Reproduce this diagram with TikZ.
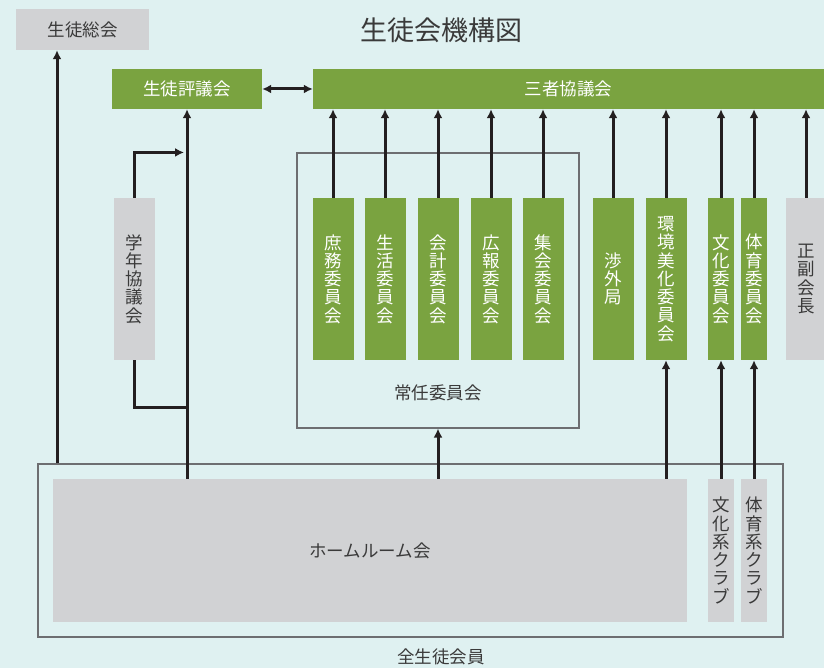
\documentclass[tikz,border=0pt]{standalone}
\usepackage{fontspec}
\newfontfamily\jp{Noto Sans CJK JP}
\usetikzlibrary{arrows.meta}
\definecolor{bgcyan}{HTML}{DFF1F1}
\definecolor{kgreen}{HTML}{7AA340}
\definecolor{kgray}{HTML}{D1D2D4}
\definecolor{kline}{HTML}{231F20}
\definecolor{kframe}{HTML}{6D6E71}
\definecolor{ktext}{HTML}{3A3A3A}

\begin{document}
\begin{tikzpicture}[x=1pt,y=-1pt,>={Latex[length=9pt,width=9pt]},
  base/.style={inner sep=0pt,font=\jp\fontsize{17.5}{18.3}\selectfont,align=center},
  greenbox/.style={base,fill=kgreen,text=white},
  graybox/.style={base,fill=kgray,text=ktext},
  tall/.style={minimum width=41pt,minimum height=162pt},
  slim/.style={minimum width=26pt,minimum height=162pt},
  frame/.style={draw=kframe,line width=1.1pt,inner sep=0pt},
  arr/.style={->,draw=kline,line width=3pt},
  link/.style={draw=kline,line width=3pt}]
  % Fondo
  \fill[bgcyan] (0,0) rectangle (824,668);
  \useasboundingbox (0,0) rectangle (824,668);

  % Titulo
  \node[base,text=ktext,font=\jp\fontsize{27}{28}\selectfont] (title) at (441,30) {生徒会機構図};

  % Marcos
  \node[frame,minimum width=745pt,minimum height=173pt] (zen) at (410.5,550.5) {};
  \node[base,text=ktext] (zenlabel) at (441,657) {全生徒会員};
  \node[frame,minimum width=282pt,minimum height=275pt] (jonin) at (438,290.5) {};
  \node[base,text=ktext] (joninlabel) at (438,393) {常任委員会};

  % Fila superior
  \node[graybox,minimum width=133pt,minimum height=41pt] (soukai) at (82.5,29.5) {生徒総会};
  \node[greenbox,minimum width=150pt,minimum height=40pt] (hyogi) at (187,89) {生徒評議会};
  \node[greenbox,minimum width=511pt,minimum height=40pt] (sansha) at (568.5,89) {三者協議会};

  % Comites
  \node[graybox,tall] (gakunen) at (134,279) {学\\年\\協\\議\\会};
  \node[greenbox,tall] (shomu) at (333,279) {庶\\務\\委\\員\\会};
  \node[greenbox,tall] (seikatsu) at (385,279) {生\\活\\委\\員\\会};
  \node[greenbox,tall] (kaikei) at (438,279) {会\\計\\委\\員\\会};
  \node[greenbox,tall] (koho) at (491,279) {広\\報\\委\\員\\会};
  \node[greenbox,tall] (shukai) at (543,279) {集\\会\\委\\員\\会};
  \node[greenbox,tall] (shogai) at (613,279) {渉\\外\\局};
  \node[greenbox,tall] (kankyo) at (666,279) {環\\境\\美\\化\\委\\員\\会};
  \node[greenbox,slim] (bunka) at (721,279) {文\\化\\委\\員\\会};
  \node[greenbox,slim] (taiiku) at (754,279) {体\\育\\委\\員\\会};
  \node[graybox,minimum width=40pt,minimum height=162pt] (fuku) at (806,279) {正\\副\\会\\長};

  % Fila inferior
  \node[graybox,minimum width=634pt,minimum height=143pt] (homeroom) at (370,550.5) {ホームルーム会};
  \node[graybox,slim,minimum height=143pt] (bclub) at (721,550.5) {文\\化\\系\\ク\\ラ\\ブ};
  \node[graybox,slim,minimum height=143pt] (tclub) at (754,550.5) {体\\育\\系\\ク\\ラ\\ブ};

  % Conexiones
  \draw[arr] (zen.north -| 57,0) -- (soukai.south -| 57,0);
  \draw[arr] (homeroom.north -| hyogi) -- (hyogi.south);
  \draw[<->,link] (hyogi.east) -- (sansha.west);
  \draw[arr,shorten >=3pt] (gakunen.north) |- (hyogi.south |- jonin.north);
  \draw[link] (gakunen.south) |- (hyogi.south |- 0,407);
  \foreach \n in {shomu,seikatsu,kaikei,koho,shukai,shogai,kankyo,bunka,taiiku,fuku}
    \draw[arr] (\n.north) -- (sansha.south -| \n.north);
  \draw[arr] (homeroom.north -| jonin) -- (jonin.south);
  \draw[arr] (homeroom.north -| kankyo) -- (kankyo.south);
  \draw[arr] (bclub.north) -- (bunka.south);
  \draw[arr] (tclub.north) -- (taiiku.south);
\end{tikzpicture}
\end{document}
